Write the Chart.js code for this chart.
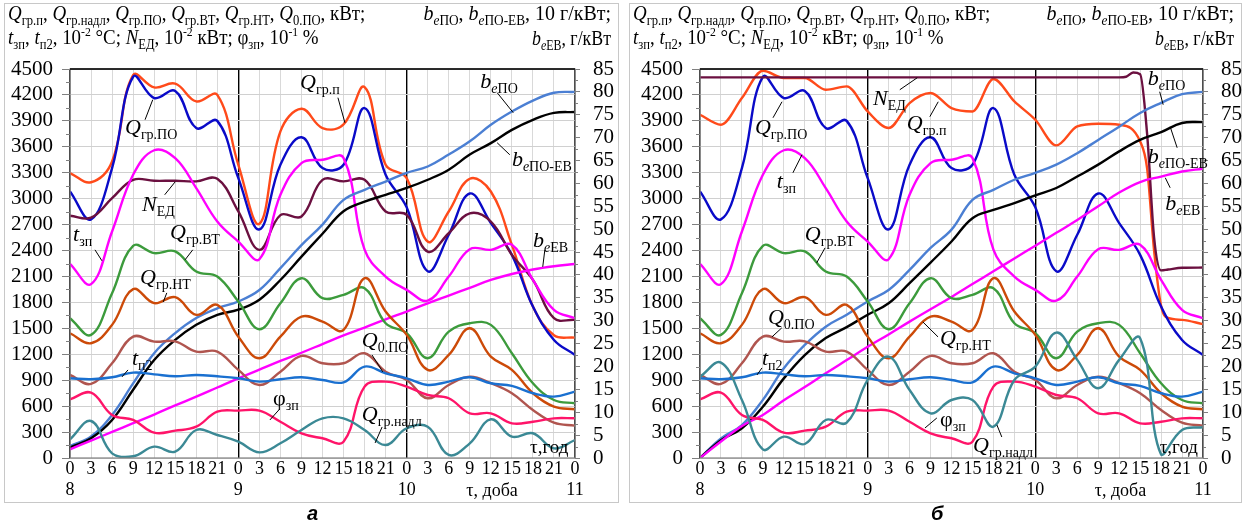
<!DOCTYPE html>
<html>
<head>
<meta charset="utf-8">
<script src="https://cdn.jsdelivr.net/npm/chart.js@4"></script>
<style>
  body { margin: 0; background: #fff; width: 1242px; height: 526px; position: relative; overflow: hidden; }
  .box { position: absolute; top: 3px; height: 498px; border: 1px solid #c8c8c8; }
  canvas { position: absolute; top: 0; }
  .cap { position: absolute; top: 502px; font: bold italic 20px "Liberation Sans", Arial, sans-serif; }
</style>
</head>
<body>
<div class="box" style="left:4px;width:613px"></div>
<div class="box" style="left:629px;width:611px"></div>
<canvas id="chartA" width="621" height="505" style="left:0"></canvas>
<canvas id="chartB" width="617" height="505" style="left:625px"></canvas>
<div class="cap" style="left:307px">а</div>
<div class="cap" style="left:931px">б</div>

<script>
// hours from the start of day 8, one point every 3 h
const HOURS = [0, 3, 6, 9, 12, 15, 18, 21, 24, 27, 30, 33, 36, 39, 42, 45, 48, 51, 54, 57, 60, 63, 66, 69, 72];
const DAYS = ['8', '9', '10', '11'];

// series shared by both panels (left axis)
const Q_GRPO = [3083, 2760, 3354, 4410, 4164, 4245, 3817, 3900, 3238, 2645, 3392, 3710, 3354, 3392, 4048, 3276, 2900, 2160, 2582, 3060, 2717, 2350, 1752, 1366, 1192];
const T_ZP   = [2246, 2011, 2620, 3276, 3560, 3469, 3122, 2736, 2504, 2300, 3045, 3412, 3450, 3470, 2410, 2099, 1945, 1821, 2099, 2416, 2408, 2466, 2061, 1713, 1617];
const Q_VT   = [1617, 1424, 1907, 2454, 2370, 2390, 2157, 2099, 1810, 1490, 1791, 2080, 1849, 1887, 1964, 1559, 1443, 1154, 1462, 1559, 1540, 1212, 865, 671, 633];
const Q_NT   = [1443, 1328, 1540, 1953, 1791, 1860, 1656, 1771, 1404, 1154, 1404, 1636, 1578, 1482, 2080, 1694, 1424, 1019, 1192, 1501, 1173, 1019, 749, 594, 564];
const Q0_PO  = [961, 857, 1096, 1404, 1346, 1350, 1231, 1231, 1019, 845, 999, 1181, 1096, 1096, 1212, 999, 903, 691, 845, 941, 865, 749, 556, 409, 374];
const T_P2   = [922, 911, 934, 988, 968, 945, 961, 945, 922, 884, 911, 934, 903, 876, 1057, 980, 922, 845, 884, 934, 865, 834, 749, 710, 768];
const PHI_ZP = [679, 756, 498, 440, 293, 316, 362, 536, 548, 548, 420, 286, 228, 189, 826, 884, 826, 729, 691, 517, 517, 401, 420, 459, 459];

// panel a only
const A_Q_GRP  = [3296, 3190, 3430, 4430, 4287, 4330, 4125, 4200, 3392, 2710, 3778, 4040, 3817, 3860, 4291, 3392, 3238, 2504, 2852, 3230, 3083, 2466, 1752, 1420, 1393];
const A_N_ED   = [2802, 2780, 3006, 3218, 3207, 3207, 3200, 3230, 2852, 2408, 2810, 2794, 3218, 3200, 3218, 2852, 2813, 2388, 2600, 2830, 2736, 2350, 2061, 1617, 1598];
const A_Q_NADL = [216, 428, 54, 20, 131, 73, 324, 266, 189, 65, 170, 324, 459, 459, 324, 150, 344, 362, 35, 170, 448, 247, 286, 112, 208];
// right axis (b_e...)
const A_BE_PO   = [2.6, 4.7, 9.4, 16.3, 22.9, 27.3, 30.6, 32.7, 34.2, 36.7, 41.5, 46.5, 51.0, 56.4, 58.6, 60.4, 62.3, 63.7, 66.3, 69.2, 72.8, 75.7, 78.1, 79.8, 80.0];
const A_BE_POEV = [2.3, 4.3, 8.3, 14.9, 21.4, 25.8, 29.1, 31.3, 32.4, 34.6, 38.9, 44.0, 49.0, 53.9, 56.0, 57.5, 59.0, 60.8, 63.0, 66.3, 68.8, 71.7, 73.9, 75.4, 75.6];
const A_BE_EV   = [1.9, 3.8, 5.7, 7.6, 9.5, 11.5, 13.4, 15.4, 17.4, 19.3, 21.2, 23.0, 24.9, 26.8, 28.5, 30.3, 32.0, 33.8, 35.5, 37.2, 38.9, 40.2, 41.2, 41.9, 42.4];

// panel b only
const B_Q_GRP_H = [0, 3, 6, 9, 12, 15, 18, 21, 24, 27, 30, 33, 36, 39, 42, 45, 48, 51, 54, 57, 60, 63, 64, 65, 66, 67, 69, 72];
const B_Q_GRP   = [3971, 3855, 4164, 4480, 4396, 4396, 4260, 4299, 4009, 3817, 4106, 4222, 4048, 4009, 4384, 4125, 3913, 3616, 3836, 3867, 3855, 3662, 3350, 2400, 1760, 1620, 1598, 1548];
const B_N_ED_H  = [0, 3, 6, 9, 12, 15, 18, 21, 24, 27, 30, 33, 36, 39, 42, 45, 48, 51, 54, 57, 60, 61, 62, 63, 64, 65, 66, 67, 69, 72];
const B_N_ED    = [4403, 4403, 4403, 4403, 4403, 4403, 4403, 4403, 4403, 4403, 4403, 4403, 4403, 4403, 4403, 4403, 4403, 4403, 4403, 4403, 4403, 4410, 4460, 4440, 3750, 2550, 2170, 2180, 2200, 2203];
const B_Q_NADL  = [941, 1103, 671, 100, 247, 162, 440, 409, 903, 1173, 787, 517, 671, 671, 362, 903, 1057, 1451, 1135, 807, 1135, 1386, 40, 324, 355];
const B_BE_PO   = [0, 4.3, 7.2, 12.7, 19.6, 24.7, 28.7, 31.3, 34.2, 36.7, 41.1, 45.9, 49.9, 56.4, 58.6, 60.8, 62.3, 64.1, 66.6, 69.5, 72.4, 75.4, 77.6, 79.5, 80.0];
const B_BE_POEV = [0, 3.9, 6.5, 11.2, 17.4, 22.5, 26.2, 28.6, 31.3, 33.8, 38.2, 42.7, 47.3, 52.4, 54.2, 55.7, 57.4, 59.0, 61.5, 64.1, 67.0, 69.5, 71.2, 73.2, 73.4];
const B_BE_EV   = [0, 3.6, 7.0, 9.4, 12.6, 15.5, 18.5, 21.4, 24.3, 27.0, 29.8, 32.5, 35.2, 38.0, 40.8, 43.6, 46.4, 49.2, 52.0, 55.0, 58.0, 60.3, 61.5, 62.6, 63.2];

const COL = {
  grp: '#ff4a1a', grpo: '#0a0ac8', ned: '#6b1040', tzp: '#ff00ff', vt: '#3c9b3c', nt: '#cc4a08',
  q0: '#b0554f', tp2: '#1a70d0', phi: '#ff1469', nadl: '#3b8995', bepo: '#4b7fd3', bepoev: '#000000', beev: '#ff00ff'
};

const FONT = '"Liberation Serif", serif';
Chart.defaults.font.family = FONT;
Chart.defaults.color = '#000';

function line(hrs, vals, color, axis, mode) {
  return {
    data: vals.map((v, i) => ({ x: hrs[i], y: v })),
    borderColor: color,
    yAxisID: axis || 'y',
    cubicInterpolationMode: mode || 'default'
  };
}

// rich text: [text, kind] with kinds n (normal), i (italic), s (subscript), si (italic subscript), p (superscript)
const KIND = { n: [21, 0, ''], i: [21, 0, 'italic '], s: [14, 5, ''], si: [14, 5, 'italic '], p: [13, -8, ''] };
function rich(ctx, x, y, parts, align, big, squeeze) {
  const k = big || 0, sq = squeeze || 1;
  const f = p => { const [sz, , st] = KIND[p[1]]; return st + (sz + (p[1] === 's' || p[1] === 'si' ? 0 : k)) + 'px ' + FONT; };
  let w = 0;
  for (const p of parts) { ctx.font = f(p); w += ctx.measureText(p[0]).width; }
  ctx.save();
  ctx.translate(align === 'right' ? x - w * sq : x, y);
  ctx.scale(sq, 1);
  let cx = 0;
  for (const p of parts) {
    ctx.font = f(p);
    ctx.fillText(p[0], cx, KIND[p[1]][1]);
    cx += ctx.measureText(p[0]).width;
  }
  ctx.restore();
}

const Q = s => [['Q', 'i'], [s, 's']];
const T = s => [['t', 'i'], [s, 's']];
const B = s => [['b', 'i'], ['e', 'si'], [s, 's']];
const N_ED = [['N', 'i'], ['ЕД', 's']];
const PHI = [['φ', 'n'], ['зп', 's']];
const TAU = [['τ,год', 'n']];

const HEAD_L1 = [['Q', 'i'], ['гр.п', 's'], [', ', 'n'], ['Q', 'i'], ['гр.надл', 's'], [', ', 'n'], ['Q', 'i'], ['гр.ПО', 's'], [', ', 'n'],
  ['Q', 'i'], ['гр.ВТ', 's'], [', ', 'n'], ['Q', 'i'], ['гр.НТ', 's'], [', ', 'n'], ['Q', 'i'], ['0.ПО', 's'], [', кВт;', 'n']];
const HEAD_L2 = [['t', 'i'], ['зп', 's'], [', ', 'n'], ['t', 'i'], ['п2', 's'], [', 10', 'n'], ['-2', 'p'], [' °C; ', 'n'], ['N', 'i'], ['ЕД', 's'],
  [', 10', 'n'], ['-2', 'p'], [' кВт; φ', 'n'], ['зп', 's'], [', 10', 'n'], ['-1', 'p'], [' %', 'n']];
const HEAD_R1 = [['b', 'i'], ['e', 'si'], ['ПО', 's'], [', ', 'n'], ['b', 'i'], ['e', 'si'], ['ПО-ЕВ', 's'], [', 10 г/кВт;', 'n']];
const HEAD_R2 = [['b', 'i'], ['e', 'si'], ['ЕВ', 's'], [', г/кВт', 'n']];

// label text, anchor (hour, left-axis value), leader from / to
const LABELS_A = [
  [Q('гр.ПО'), 7.84, 3751, 10.7, 3913, 11.8, 4145],
  [Q('гр.п'), 32.8, 4272, 38.2, 4168, 39.2, 3878],
  [N_ED, 10.27, 2860, 13.5, 3045, 15.0, 3195],
  [T('зп'), 0.43, 2512, 3.56, 2408, 4.56, 2281],
  [Q('гр.ВТ'), 14.26, 2535, 17.5, 2408, 16.4, 2292],
  [Q('гр.НТ'), 9.98, 2014, 13.8, 1910, 13.3, 1806],
  [T('п2'), 8.84, 1077, 8.27, 1019, 7.41, 938],
  [PHI, 28.94, 614, 29.9, 567, 28.5, 440],
  [Q('0.ПО'), 41.6, 1285, 43.06, 1192, 44.6, 996],
  [Q('гр.надл'), 41.6, 428, 44.5, 359, 43.5, 174],
  [B('ПО'), 58.5, 4283, 60.9, 4226, 63.2, 3994],
  [B('ПО-ЕВ'), 63.0, 3380, 62.7, 3508, 60.9, 3647],
  [B('ЕВ'), 66.0, 2443, 67.7, 2408, 67.4, 2211],
  [TAU, 65.6, 58]
];
const LABELS_B = [
  [N_ED, 24.76, 4087, 28.6, 4260, 31.1, 4399],
  [Q('гр.ПО'), 7.87, 3751, 10.45, 3936, 11.74, 4121],
  [Q('гр.п'), 29.6, 3797, 32.9, 3948, 34.1, 4121],
  [T('зп'), 11.0, 3126, 13.3, 3299, 14.6, 3508],
  [Q('гр.ВТ'), 15.0, 2512, 16.7, 2257, 17.9, 2431],
  [Q('0.ПО'), 9.73, 1551, 11.7, 1505, 10.3, 1401],
  [T('п2'), 8.87, 1077, 8.87, 1042, 8.16, 961],
  [Q('гр.НТ'), 34.35, 1308, 34.07, 1401, 31.9, 1574],
  [PHI, 34.35, 370, 33.9, 463, 32.2, 347],
  [Q('гр.надл'), 39.08, 69, 43.2, 243, 42.5, 382],
  [B('ПО'), 64.1, 4318, 65.8, 4237, 66.3, 4087],
  [B('ПО-ЕВ'), 64.1, 3415, 68.3, 3589, 67.3, 3832],
  [B('ЕВ'), 66.6, 2871, 67.3, 3126, 66.6, 3242],
  [TAU, 65.8, 58]
];

const decor = {
  id: 'decor',
  afterDraw(chart, args, o) {
    const ctx = chart.ctx, a = chart.chartArea;
    const sx = chart.scales.x, sy = chart.scales.y, s1 = chart.scales.y1;
    ctx.save();
    // minor ticks
    ctx.strokeStyle = '#808080';
    ctx.lineWidth = 1;
    ctx.beginPath();
    for (let v = 150; v < 4500; v += 300) {
      const y = Math.round(sy.getPixelForValue(v)) + 0.5;
      ctx.moveTo(a.left - 4, y); ctx.lineTo(a.left, y);
    }
    for (let v = 2.5; v < 85; v += 5) {
      const y = Math.round(s1.getPixelForValue(v)) + 0.5;
      ctx.moveTo(a.right, y); ctx.lineTo(a.right + 3, y);
    }
    ctx.stroke();
    // frame
    ctx.lineWidth = 1.2;
    ctx.strokeRect(a.left, a.top, a.right - a.left, a.bottom - a.top);
    ctx.strokeStyle = '#000';
    ctx.lineWidth = 1.5;
    ctx.beginPath(); ctx.moveTo(a.left, a.top); ctx.lineTo(a.right, a.top); ctx.stroke();

    // curve labels with leaders
    ctx.fillStyle = '#000';
    ctx.lineWidth = 1;
    ctx.textBaseline = 'alphabetic';
    for (const L of o.labels) {
      if (L.length > 3) {
        ctx.beginPath();
        ctx.moveTo(sx.getPixelForValue(L[3]), sy.getPixelForValue(L[4]));
        ctx.lineTo(sx.getPixelForValue(L[5]), sy.getPixelForValue(L[6]));
        ctx.stroke();
      }
      rich(ctx, sx.getPixelForValue(L[1]), sy.getPixelForValue(L[2]), L[0], 'left', L[0] === TAU ? -2 : 1);
    }

    // header (condensed like the source figure)
    rich(ctx, 8, 20, HEAD_L1, 'left', 0, 0.9);
    rich(ctx, 8, 44, HEAD_L2, 'left', 0, 0.9);
    rich(ctx, o.right, 20, HEAD_R1, 'right', 0, 0.95);
    rich(ctx, o.right, 45, HEAD_R2, 'right', 0, 0.85);

    ctx.font = '18px ' + FONT;
    ctx.fillText('τ, доба', sx.getPixelForValue(56.5), 496);
    ctx.restore();
  }
};

function makeChart(id, width, plotLeft, plotRight, datasets, labels, headRight) {
  return new Chart(document.getElementById(id), {
    type: 'line',
    data: { datasets },
    options: {
      responsive: false,
      animation: false,
      devicePixelRatio: 1,
      layout: { padding: { top: 69, left: 0, right: 0, bottom: 0 } },
      elements: { point: { radius: 0 }, line: { borderWidth: 2.4, tension: 0.4 } },
      plugins: { legend: { display: false }, tooltip: { enabled: false }, decor: { labels, right: headRight } },
      scales: {
        x: {
          type: 'linear', min: 0, max: 72,
          afterFit: s => { s.height = 47; },
          ticks: {
            stepSize: 3, autoSkip: false, maxRotation: 0, padding: 0,
            font: { size: 18 },
            callback: v => (v % 24 === 0 ? ['0', DAYS[v / 24]] : String(v % 24))
          },
          grid: {
            drawTicks: false,
            color: c => (c.tick && c.tick.value % 24 === 0 ? '#000' : '#d9d9d9'),
            lineWidth: c => (c.tick && c.tick.value % 24 === 0 ? 1.4 : 1)
          },
          border: { display: false }
        },
        y: {
          position: 'left', min: 0, max: 4500,
          afterFit: s => { s.width = plotLeft; },
          ticks: { stepSize: 300, autoSkip: false, padding: 9, font: { size: 21 }, callback: v => String(v) },
          grid: { color: '#d0d0d0', tickColor: '#808080', tickLength: 8 },
          border: { display: false }
        },
        y1: {
          position: 'right', min: 0, max: 85,
          afterFit: s => { s.width = width - plotRight; },
          ticks: { stepSize: 5, autoSkip: false, padding: 13, font: { size: 21 }, callback: v => String(v) },
          grid: { drawOnChartArea: false, tickColor: '#808080', tickLength: 5 },
          border: { display: false }
        }
      }
    },
    plugins: [decor]
  });
}

makeChart('chartA', 621, 70, 575, [
  line(HOURS, A_Q_NADL, COL.nadl),
  line(HOURS, PHI_ZP, COL.phi),
  line(HOURS, T_P2, COL.tp2),
  line(HOURS, Q0_PO, COL.q0),
  line(HOURS, Q_NT, COL.nt),
  line(HOURS, Q_VT, COL.vt),
  line(HOURS, A_BE_EV, COL.beev, 'y1'),
  line(HOURS, A_BE_POEV, COL.bepoev, 'y1'),
  line(HOURS, A_BE_PO, COL.bepo, 'y1'),
  line(HOURS, T_ZP, COL.tzp),
  line(HOURS, A_N_ED, COL.ned),
  line(HOURS, Q_GRPO, COL.grpo),
  line(HOURS, A_Q_GRP, COL.grp)
], LABELS_A, 611);

makeChart('chartB', 617, 75, 578, [
  line(HOURS, B_Q_NADL, COL.nadl),
  line(HOURS, PHI_ZP, COL.phi),
  line(HOURS, T_P2, COL.tp2),
  line(HOURS, Q0_PO, COL.q0),
  line(HOURS, Q_NT, COL.nt),
  line(HOURS, Q_VT, COL.vt),
  line(HOURS, B_BE_EV, COL.beev, 'y1'),
  line(HOURS, B_BE_POEV, COL.bepoev, 'y1'),
  line(HOURS, B_BE_PO, COL.bepo, 'y1'),
  line(HOURS, T_ZP, COL.tzp),
  line(B_N_ED_H, B_N_ED, COL.ned, 'y', 'monotone'),
  line(HOURS, Q_GRPO, COL.grpo),
  line(B_Q_GRP_H, B_Q_GRP, COL.grp, 'y', 'monotone')
], LABELS_B, 609);
</script>
</body>
</html>
